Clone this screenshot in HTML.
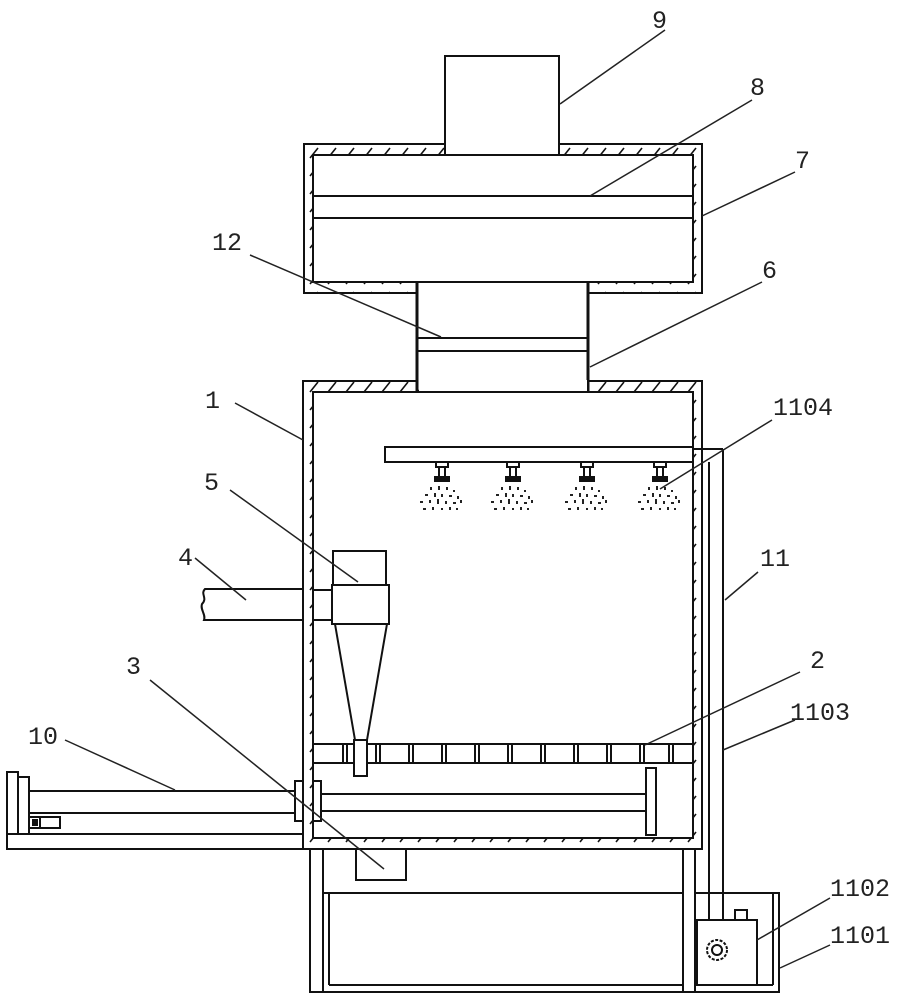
<!DOCTYPE html>
<html><head><meta charset="utf-8"><style>
html,body{margin:0;padding:0;background:#fff;}
svg{display:block}
text{font-family:"Liberation Mono","DejaVu Sans Mono",monospace;font-size:25px;fill:#222;}
</style></head><body>
<svg width="905" height="1000" viewBox="0 0 905 1000" xmlns="http://www.w3.org/2000/svg">
<defs>
<pattern id="h" width="18" height="18" patternUnits="userSpaceOnUse">
<path d="M4 14 L12 4" stroke="#111" stroke-width="1.6"/>
</pattern>
</defs>
<g fill="none" stroke="#111" stroke-width="2">
<!-- box 9 -->
<rect x="445" y="56" width="114" height="99" fill="#fff"/>
<!-- top box 7 walls -->
<path fill="url(#h)" stroke="none" d="M304 144 H445 V155 H313 V282 H416 V293 H304 Z"/>
<path fill="url(#h)" stroke="none" d="M559 144 H702 V293 H589 V282 H693 V155 H559 Z"/>
<path d="M416 293 H304 V144 H445 M559 144 H702 V293 H589"/>
<rect x="313" y="155" width="380" height="127"/>
<line x1="313" y1="196" x2="693" y2="196"/>
<line x1="313" y1="218" x2="693" y2="218"/>
<!-- neck 6 -->
<line x1="417" y1="282" x2="417" y2="392" stroke-width="3"/>
<line x1="588" y1="282" x2="588" y2="392" stroke-width="3"/>
<line x1="417" y1="338" x2="588" y2="338"/>
<line x1="417" y1="351" x2="588" y2="351"/>
<!-- main box 1 -->
<path fill="url(#h)" stroke="none" d="M303 381 H702 V849 H303 Z M313 392 V838 H693 V392 Z" fill-rule="evenodd"/>
<rect x="419" y="380" width="168" height="11" fill="#fff" stroke="none"/>
<path d="M417 381 H303 V849 H702 V381 H588"/>
<rect x="313" y="392" width="380" height="446"/>
<!-- spray bar -->
<rect x="385" y="447" width="308" height="15" fill="#fff"/>
<g stroke-width="2">
<g id="nz"><rect x="436" y="462" width="12" height="5"/><line x1="439" y1="467" x2="439" y2="477"/><line x1="445" y1="467" x2="445" y2="477"/><rect x="435" y="477" width="14" height="4" fill="#111"/></g>
<use href="#nz" x="71"/><use href="#nz" x="145"/><use href="#nz" x="218"/>
</g>
<g stroke="none" fill="#222">
<g id="sp">
<rect x="430" y="487" width="2" height="3"/><rect x="438" y="486" width="2" height="4"/><rect x="446" y="487" width="2" height="3"/><rect x="453" y="490" width="2" height="2"/>
<rect x="425" y="494" width="3" height="2"/><rect x="434" y="493" width="2" height="4"/><rect x="441" y="494" width="2" height="3"/><rect x="449" y="495" width="3" height="2"/><rect x="457" y="496" width="2" height="3"/>
<rect x="420" y="501" width="3" height="2"/><rect x="429" y="500" width="2" height="3"/><rect x="437" y="499" width="2" height="5"/><rect x="445" y="501" width="2" height="3"/><rect x="453" y="502" width="3" height="2"/><rect x="460" y="500" width="2" height="3"/>
<rect x="423" y="508" width="3" height="2"/><rect x="432" y="507" width="2" height="3"/><rect x="441" y="508" width="2" height="2"/><rect x="449" y="507" width="2" height="3"/><rect x="456" y="508" width="2" height="2"/>
</g>
<use href="#sp" x="71"/><use href="#sp" x="145"/><use href="#sp" x="218"/>
</g>
<!-- pipe 11 -->
<line x1="693" y1="449" x2="723" y2="449"/>
<line x1="709" y1="462" x2="709" y2="920"/>
<line x1="723" y1="449" x2="723" y2="920"/>
<!-- screen 2 -->
<line x1="313" y1="744" x2="693" y2="744"/>
<line x1="313" y1="763" x2="693" y2="763"/>
<g id="bar"><line x1="343" y1="744" x2="343" y2="763"/><line x1="347" y1="744" x2="347" y2="763"/></g>
<use href="#bar" x="33"/><use href="#bar" x="66"/><use href="#bar" x="99"/><use href="#bar" x="132"/><use href="#bar" x="165"/><use href="#bar" x="198"/><use href="#bar" x="231"/><use href="#bar" x="264"/><use href="#bar" x="297"/><use href="#bar" x="326"/>
<!-- cyclone 5 -->
<rect x="333" y="551" width="53" height="34" fill="#fff"/>
<rect x="332" y="585" width="57" height="39" fill="#fff"/>
<rect x="313" y="590" width="19" height="30"/>
<path d="M335 624 L355 740 M387 624 L367 740"/>
<rect x="354" y="740" width="13" height="36" fill="#fff"/>
<!-- pipe 4 -->
<path d="M303 589 H205 C200 594 208 598 202 604 C200 610 206 614 204 620 H303"/>
<!-- rod 10 -->
<rect x="7" y="772" width="11" height="62"/>
<rect x="18" y="777" width="11" height="57"/>
<rect x="7" y="834" width="296" height="15"/>
<line x1="29" y1="791" x2="295" y2="791"/>
<line x1="29" y1="813" x2="295" y2="813"/>
<rect x="29" y="817" width="31" height="11"/>
<line x1="40" y1="817" x2="40" y2="828"/>
<rect x="33" y="820" width="4" height="5" fill="#111"/>
<rect x="295" y="781" width="8" height="40" fill="#fff"/>
<rect x="313" y="781" width="8" height="40" fill="#fff"/>
<line x1="321" y1="794" x2="646" y2="794"/>
<line x1="321" y1="811" x2="646" y2="811"/>
<rect x="646" y="768" width="10" height="67" fill="#fff"/>
<!-- box 3 -->
<rect x="356" y="849" width="50" height="31"/>
<!-- stand -->
<rect x="310" y="849" width="13" height="143"/>
<rect x="683" y="849" width="12" height="143"/>
<line x1="323" y1="893" x2="683" y2="893"/>
<line x1="329" y1="893" x2="329" y2="985"/>
<line x1="329" y1="985" x2="683" y2="985"/>
<line x1="323" y1="992" x2="683" y2="992"/>
<!-- tank 1101 -->
<path d="M695 893 H779 V992 H695"/>
<line x1="773" y1="893" x2="773" y2="985"/>
<line x1="695" y1="985" x2="773" y2="985"/>
<!-- pump 1102 -->
<rect x="697" y="920" width="60" height="65" fill="#fff"/>
<rect x="735" y="910" width="12" height="10"/>
<circle cx="717" cy="950" r="10" stroke-dasharray="3 1.5"/>
<circle cx="717" cy="950" r="5"/>
<line x1="709" y1="893" x2="709" y2="920"/>
<line x1="723" y1="893" x2="723" y2="920"/>
</g>
<!-- leaders -->
<g stroke="#222" stroke-width="1.5" fill="none">
<line x1="560" y1="104" x2="665" y2="30"/>
<line x1="590" y1="196" x2="752" y2="100"/>
<line x1="702" y1="216" x2="795" y2="172"/>
<line x1="250" y1="255" x2="441" y2="337"/>
<line x1="590" y1="367" x2="762" y2="282"/>
<line x1="235" y1="403" x2="303" y2="440"/>
<line x1="660" y1="489" x2="772" y2="420"/>
<line x1="230" y1="490" x2="358" y2="582"/>
<line x1="195" y1="558" x2="246" y2="600"/>
<line x1="725" y1="600" x2="758" y2="572"/>
<line x1="645" y1="745" x2="800" y2="672"/>
<line x1="723" y1="750" x2="795" y2="720"/>
<line x1="150" y1="680" x2="384" y2="869"/>
<line x1="65" y1="740" x2="175" y2="790"/>
<line x1="757" y1="940" x2="830" y2="898"/>
<line x1="780" y1="968" x2="830" y2="945"/>
</g>
<text x="652" y="28">9</text>
<text x="750" y="95">8</text>
<text x="795" y="168">7</text>
<text x="212" y="250">12</text>
<text x="762" y="278">6</text>
<text x="205" y="408">1</text>
<text x="773" y="415">1104</text>
<text x="204" y="490">5</text>
<text x="178" y="565">4</text>
<text x="760" y="566">11</text>
<text x="126" y="674">3</text>
<text x="810" y="668">2</text>
<text x="790" y="720">1103</text>
<text x="28" y="744">10</text>
<text x="830" y="896">1102</text>
<text x="830" y="943">1101</text>
</svg>
</body></html>
